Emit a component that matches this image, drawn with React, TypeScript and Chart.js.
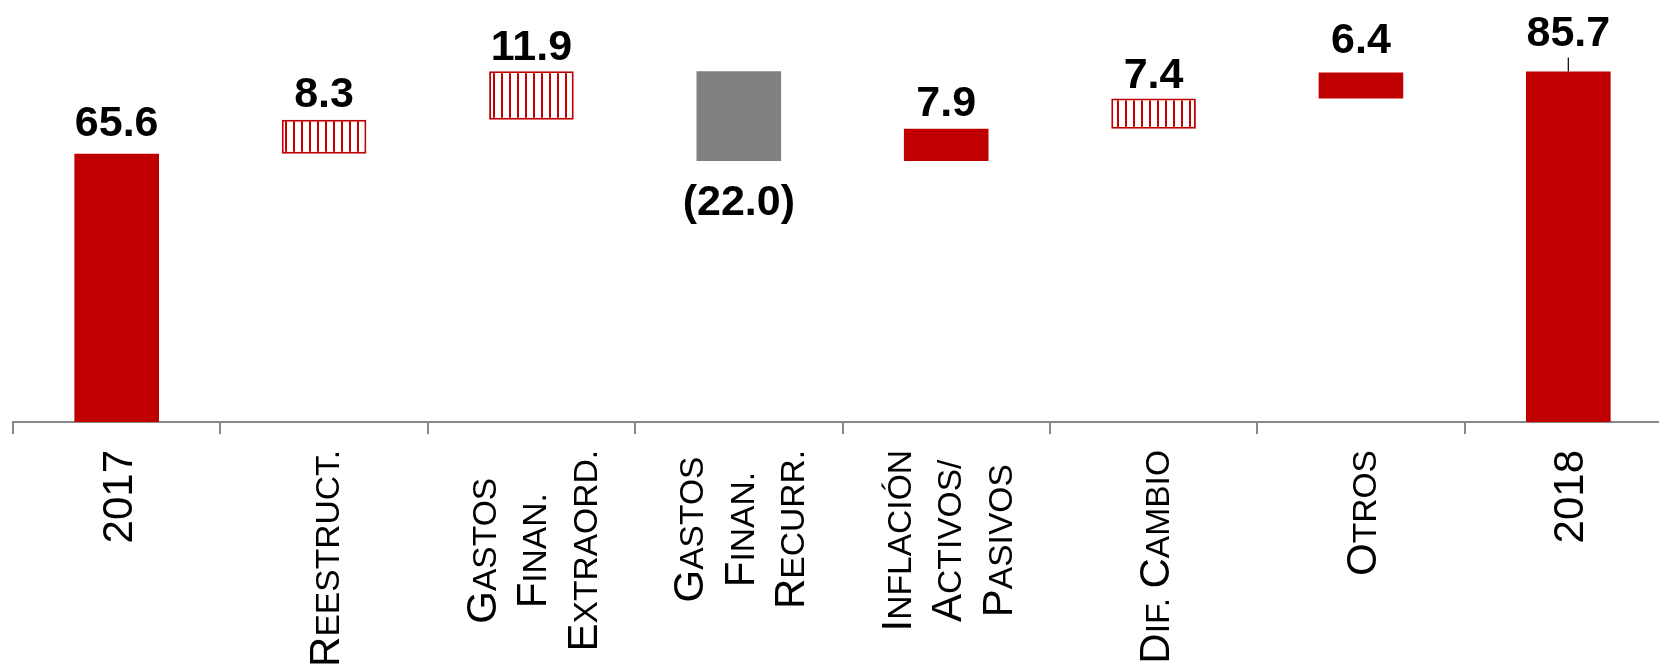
import React, { useEffect, useRef } from "react";
import { Chart, registerables } from "chart.js";

Chart.register(...registerables);

// ---- data ----
const CATEGORIES: string[][] = [
  ["2017"],
  ["Reestruct."],
  ["Gastos", "Finan.", "Extraord."],
  ["Gastos", "Finan.", "Recurr."],
  ["Inflación", "Activos/", "Pasivos"],
  ["Dif. Cambio"],
  ["Otros"],
  ["2018"],
];
const START_VALUE = 65.6;
const CHANGES = [8.3, 11.9, -22.0, 7.9, 7.4, 6.4];
const END_VALUE = 85.7;
const BAR_KIND = ["solid", "hatch", "hatch", "gray", "solid", "hatch", "solid", "solid"];

// ---- style ----
const RED = "#C00000";
const GRAY = "#808080";
const AXIS = "#8a8a8a";
const FONT = "'Liberation Sans', Arial, sans-serif";
const CAT_FONT = 42;
const SMALL_RATIO = 0.8;
const VAL_FONT = 43;
const LABEL_GAP = [18, 13, 11, 54, 13, 11, 19, 26];
const LEADER_INDEX = 7;

function fmt(v: number) {
  return v < 0 ? "(" + Math.abs(v).toFixed(1) + ")" : v.toFixed(1);
}

type Seg = { t: string; s: number };
function smallCaps(line: string): Seg[] {
  const segs: Seg[] = [];
  const big = CAT_FONT;
  const small = CAT_FONT * SMALL_RATIO;
  for (const ch of line) {
    let size: number;
    let t = ch;
    if (/[0-9]/.test(ch) || (ch !== ch.toLowerCase() && ch === ch.toUpperCase())) {
      size = big;
    } else if (ch !== ch.toUpperCase()) {
      size = small;
      t = ch.toUpperCase();
    } else {
      size = small;
    }
    const last = segs[segs.length - 1];
    if (last && last.s === size) last.t += t;
    else segs.push({ t, s: size });
  }
  return segs;
}

const catLabelPlugin = {
  id: "catLabels",
  afterDraw(chart: any) {
    const ctx = chart.ctx as CanvasRenderingContext2D;
    const xs = chart.scales.x;
    const topY = chart.chartArea.bottom + 28;
    const lineH = 50.4;
    ctx.save();
    ctx.fillStyle = "#000";
    ctx.textBaseline = "alphabetic";
    ctx.textAlign = "left";
    CATEGORIES.forEach((lines, i) => {
      const cx = xs.getPixelForValue(i);
      const measured = lines.map((ln) => {
        const segs = smallCaps(ln);
        let w = 0;
        const ws = segs.map((sg) => {
          ctx.font = `${sg.s}px ${FONT}`;
          const m = ctx.measureText(sg.t).width;
          w += m;
          return m;
        });
        return { segs, ws, w };
      });
      const blockLen = Math.max(...measured.map((m) => m.w));
      const midY = topY + blockLen / 2;
      const n = lines.length;
      measured.forEach((m, k) => {
        const lx = cx + (k - (n - 1) / 2) * lineH;
        ctx.save();
        ctx.translate(lx, midY);
        ctx.rotate(-Math.PI / 2);
        let x = -m.w / 2;
        const base = (CAT_FONT * 0.716) / 2;
        m.segs.forEach((sg, j) => {
          ctx.font = `${sg.s}px ${FONT}`;
          ctx.fillText(sg.t, x, base);
          x += m.ws[j];
        });
        ctx.restore();
      });
    });
    ctx.restore();
  },
};

const valueLabelPlugin = {
  id: "valueLabels",
  afterDatasetsDraw(chart: any) {
    const ctx = chart.ctx as CanvasRenderingContext2D;
    const meta = chart.getDatasetMeta(0);
    const values = [START_VALUE, ...CHANGES, END_VALUE];
    ctx.save();
    ctx.font = `bold ${VAL_FONT}px ${FONT}`;
    ctx.fillStyle = "#000";
    ctx.textAlign = "center";
    ctx.textBaseline = "alphabetic";
    meta.data.forEach((el: any, i: number) => {
      const v = values[i];
      const top = Math.min(el.y, el.base);
      const bottom = Math.max(el.y, el.base);
      const gap = LABEL_GAP[i];
      if (v < 0) {
        ctx.fillText(fmt(v), el.x, bottom + gap);
      } else {
        ctx.fillText(fmt(v), el.x, top - gap);
        if (i === LEADER_INDEX) {
          ctx.strokeStyle = "#000";
          ctx.lineWidth = 1.2;
          ctx.beginPath();
          ctx.moveTo(el.x, top - gap + 12);
          ctx.lineTo(el.x, top);
          ctx.stroke();
        }
      }
    });
    ctx.restore();
  },
};

export default function App() {
  const ref = useRef<HTMLCanvasElement | null>(null);

  useEffect(() => {
    const canvas = ref.current;
    if (!canvas) return;

    const pc = document.createElement("canvas");
    pc.width = 8;
    pc.height = 8;
    const pctx = pc.getContext("2d")!;
    pctx.fillStyle = "#ffffff";
    pctx.fillRect(0, 0, 8, 8);
    pctx.fillStyle = RED;
    pctx.fillRect(5, 0, 2, 8);
    const ctx2 = canvas.getContext("2d")!;
    const hatch = ctx2.createPattern(pc, "repeat");

    const ranges: [number, number][] = [];
    ranges.push([0, START_VALUE]);
    let run = START_VALUE;
    for (const c of CHANGES) {
      const next = run + c;
      ranges.push([run, next]);
      run = next;
    }
    ranges.push([0, END_VALUE]);

    const bg = BAR_KIND.map((k) => (k === "hatch" ? hatch : k === "gray" ? GRAY : RED));
    const bw = BAR_KIND.map((k) => (k === "hatch" ? 2 : 0));

    const chart = new Chart(canvas, {
      type: "bar",
      data: {
        labels: CATEGORIES.map((l) => l.join(" ")),
        datasets: [
          {
            data: ranges as any,
            backgroundColor: bg as any,
            borderColor: RED,
            borderWidth: bw,
            borderSkipped: false,
            barPercentage: 0.408,
            categoryPercentage: 1,
          },
        ],
      },
      options: {
        responsive: false,
        animation: false,
        devicePixelRatio: 1,
        layout: { padding: { left: 13, right: 0, top: 0, bottom: 0 } },
        plugins: { legend: { display: false }, tooltip: { enabled: false } },
        scales: {
          x: {
            type: "category",
            offset: true,
            grid: {
              display: true,
              drawOnChartArea: false,
              drawTicks: true,
              tickLength: 12,
              color: AXIS,
              lineWidth: 2,
              offset: true,
            },
            border: { display: true, color: AXIS, width: 2 },
            ticks: { display: false },
            afterFit: (scale: any) => {
              scale.height = 247;
            },
          },
          y: {
            display: false,
            min: 0,
            max: 103.2,
          },
        },
      },
      plugins: [valueLabelPlugin, catLabelPlugin],
    });
    return () => chart.destroy();
  }, []);

  return (
    <div
      style={{
        position: "fixed",
        left: 0,
        top: 0,
        width: 1659,
        height: 669,
        overflow: "hidden",
        background: "#ffffff",
      }}
    >
      <canvas ref={ref} width={1672} height={669} style={{ display: "block", width: 1672, height: 669 }} />
    </div>
  );
}
